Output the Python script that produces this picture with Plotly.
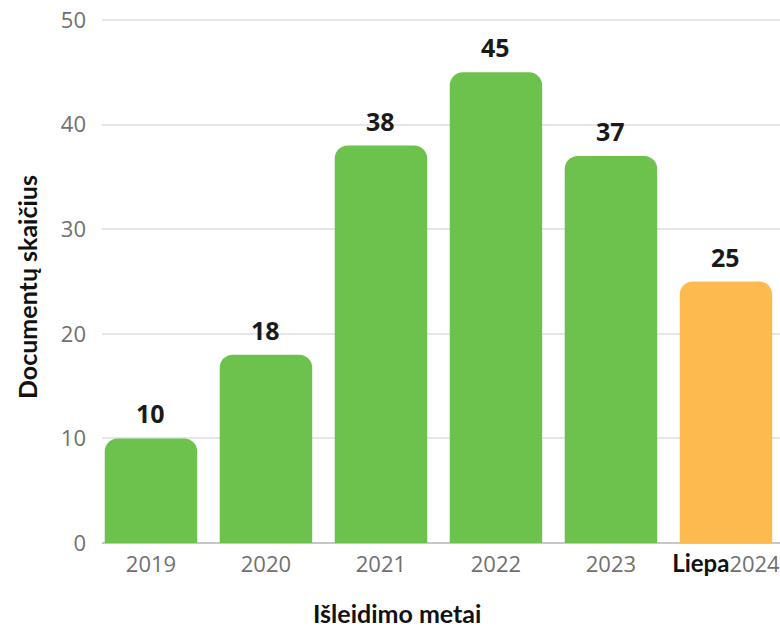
import plotly.graph_objects as go

categories = ["2019", "2020", "2021", "2022", "2023", "2024"]
tick_labels = ["2019", "2020", "2021", "2022", "2023",
               "<span style='color:#111111;font-family:Lato;font-size:24px'><b>Liepa</b></span>2024"]
values = [10, 18, 38, 45, 37, 25]
colors = ["#6cc24c", "#6cc24c", "#6cc24c", "#6cc24c", "#6cc24c", "#fdbb4f"]

# page body margin removed below; value 0 at y 543, value 50 at y 20
FIG_W, FIG_H = 780, 628
Y_TOP = 50.29
L, R, T, B = 102, 0, 17, 85
PW, PH = FIG_W - L - R, FIG_H - T - B


def sx(px):
    return (px - L) / PW


def sy(py):
    return (FIG_H - B - py) / PH


fig = go.Figure()
fig.add_trace(go.Bar(
    x=categories, y=values,
    marker=dict(color=colors, cornerradius=13, line=dict(width=0)),
    hoverinfo="x+y",
))
annotations = [
    dict(x=i, y=v, xref="x", yref="y", text=f"<b>{v}</b>", showarrow=False,
         xanchor="center", yanchor="middle", yshift=25,
         font=dict(family="Open Sans", size=25, color="#1a1a1a"))
    for i, v in enumerate(values)
]
annotations += [
    dict(text="<b>Išleidimo metai</b>", x=sx(397), y=sy(613), xref="paper", yref="paper",
         xanchor="center", yanchor="middle",
         showarrow=False, font=dict(family="Lato", size=25, color="#111111")),
    dict(text="<b>Documentų skaičius</b>", x=sx(27), y=sy(287), xref="paper", yref="paper",
         xanchor="center", yanchor="middle",
         showarrow=False, textangle=-90, font=dict(family="Lato", size=25, color="#111111")),
]
fig.update_layout(
    width=FIG_W, height=FIG_H,
    margin=dict(l=L, r=R, t=T, b=B, autoexpand=False),
    plot_bgcolor="white", paper_bgcolor="white",
    bargap=0.196, showlegend=False,
    xaxis=dict(type="category", tickvals=categories, ticktext=tick_labels,
               range=[-0.4257, 5.47], showgrid=False, showline=False, automargin=False,
               ticks="", ticklabelstandoff=6, ticklabeloverflow="allow",
               tickfont=dict(family="Open Sans", size=22, color="#707070")),
    yaxis=dict(range=[0, Y_TOP], tickvals=[0, 10, 20, 30, 40, 50], automargin=False,
               showgrid=True, gridcolor="#e6e6e6", gridwidth=1.5,
               zeroline=True, zerolinecolor="#c8c8c8", zerolinewidth=1.5,
               ticks="", ticklabelstandoff=15, ticklabeloverflow="allow",
               tickfont=dict(family="Open Sans", size=22, color="#707070")),
    annotations=annotations,
)
fig.write_html("out.html", config={"displayModeBar": False},
               post_script="document.body.style.margin='0';document.body.style.overflow='hidden';")
